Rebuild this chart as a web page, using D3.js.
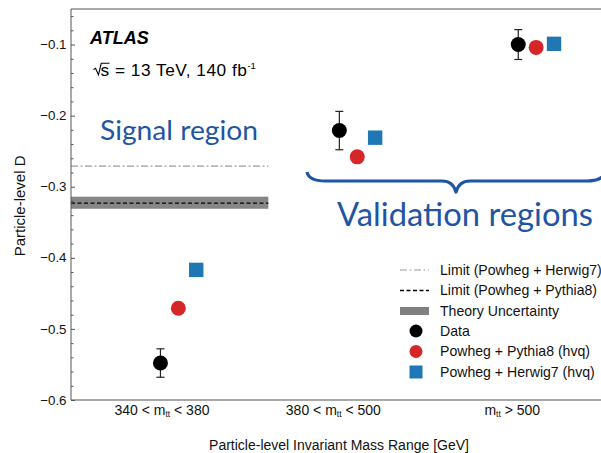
<!DOCTYPE html>
<html>
<head>
<meta charset="utf-8">
<script src="https://cdn.jsdelivr.net/npm/d3@7"></script>
<style>
  body { margin: 0; background: #fff; }
  svg { display: block; font-family: "Liberation Sans", Arial, Helvetica, sans-serif; }
</style>
</head>
<body>
<svg id="chart" width="601" height="453"></svg>
<script>
// ---------------- data ----------------
const catPrefix = ["340 < m", "380 < m", "m"];
const catSub = ["tt", "tt", "tt"];
const catSuffix = [" < 380", " < 500", " > 500"];
const catIndex = [1, 2, 3];

const dataValues = [-0.548, -0.221, -0.100];
const dataErrors = [0.020, 0.027, 0.021];
const pythiaValues = [-0.471, -0.258, -0.104];
const herwigValues = [-0.417, -0.231, -0.099];

const limitHerwig = -0.271;
const limitPythia = -0.323;
const theoryBand = [-0.331, -0.314];

const yMajorTicks = [-0.6, -0.5, -0.4, -0.3, -0.2, -0.1];
const yMinorTicks = [-0.58, -0.56, -0.54, -0.52, -0.48, -0.46, -0.44, -0.42,
  -0.38, -0.36, -0.34, -0.32, -0.28, -0.26, -0.24, -0.22,
  -0.18, -0.16, -0.14, -0.12, -0.08, -0.06];

const legendLabels = ["Limit (Powheg + Herwig7)", "Limit (Powheg + Pythia8)", "Theory Uncertainty",
  "Data", "Powheg + Pythia8 (hvq)", "Powheg + Herwig7 (hvq)"];

// ---------------- layout ----------------
const svg = d3.select("#chart");
const x = d3.scaleLinear().domain([0.5, 3.5]).range([71, 607.7]);
const y = d3.scaleLinear().domain([-0.6, -0.05]).range([400, 9]);

const red = "#d62728", blue = "#1f77b4", annBlue = "#1f55a3";
const axisColor = "#555";

// theory band and limit lines (signal region)
svg.append("rect")
  .attr("x", x(0.5)).attr("width", x(1.603) - x(0.5))
  .attr("y", y(theoryBand[1])).attr("height", y(theoryBand[0]) - y(theoryBand[1]))
  .attr("fill", "#808080").attr("opacity", 0.95);
svg.append("line")
  .attr("x1", x(0.5)).attr("x2", x(1.603))
  .attr("y1", y(limitPythia)).attr("y2", y(limitPythia))
  .attr("stroke", "#000").attr("stroke-width", 1.3).attr("stroke-dasharray", "4,2.5");
svg.append("line")
  .attr("x1", x(0.5)).attr("x2", x(1.603))
  .attr("y1", y(limitHerwig)).attr("y2", y(limitHerwig))
  .attr("stroke", "#9a9a9a").attr("stroke-width", 1.2).attr("stroke-dasharray", "7,2.5,2,2.5");

// axes frame
svg.append("line").attr("x1", x(0.5)).attr("x2", x(0.5)).attr("y1", y(-0.05)).attr("y2", y(-0.6))
  .attr("stroke", axisColor).attr("stroke-width", 1);
svg.append("line").attr("x1", x(0.5)).attr("x2", x(3.5)).attr("y1", y(-0.6)).attr("y2", y(-0.6))
  .attr("stroke", axisColor).attr("stroke-width", 1);
svg.append("line").attr("x1", x(0.5)).attr("x2", x(3.5)).attr("y1", y(-0.05)).attr("y2", y(-0.05))
  .attr("stroke", axisColor).attr("stroke-width", 1);

// y axis (ticks drawn inside)
const yAxis = d3.axisRight(y).tickValues(yMajorTicks).tickSize(4).tickFormat("");
const gy = svg.append("g").attr("transform", `translate(${x(0.5)},0)`).call(yAxis);
gy.select(".domain").remove();
gy.selectAll(".tick line").attr("stroke", axisColor);
const yAxisMinor = d3.axisRight(y).tickValues(yMinorTicks).tickSize(2.5).tickFormat("");
const gym = svg.append("g").attr("transform", `translate(${x(0.5)},0)`).call(yAxisMinor);
gym.select(".domain").remove();
gym.selectAll(".tick line").attr("stroke", axisColor);

svg.append("g").selectAll("text").data(yMajorTicks).join("text")
  .attr("x", 66.5).attr("y", d => y(d)).attr("dy", "0.35em")
  .attr("text-anchor", "end").attr("font-size", 13.3).attr("fill", "#111")
  .text(d => d3.format(".1f")(d));

// category labels
const catShift = [1.5, -6, -6];
const catG = svg.append("g");
catIndex.forEach((c, i) => {
  const t = catG.append("text").attr("x", x(c) + catShift[i]).attr("y", 415)
    .attr("text-anchor", "middle").attr("font-size", 14).attr("fill", "#111");
  t.append("tspan").text(catPrefix[i]);
  t.append("tspan").attr("font-size", 8.5).attr("dy", 2).text(catSub[i]);
  t.append("tspan").attr("dy", -2).text(catSuffix[i]);
});

// axis titles
svg.append("text").attr("x", 339).attr("y", 450).attr("text-anchor", "middle")
  .attr("font-size", 14).attr("fill", "#111").text("Particle-level Invariant Mass Range [GeV]");
svg.append("text").attr("transform", `translate(25,${y(-0.327)}) rotate(-90)`)
  .attr("text-anchor", "middle").attr("font-size", 15).attr("fill", "#111").text("Particle-level D");

// data points
const pts = svg.append("g");
pts.selectAll("line.err").data(catIndex).join("line")
  .attr("x1", c => x(c)).attr("x2", c => x(c))
  .attr("y1", (c, i) => y(dataValues[i] + dataErrors[i]))
  .attr("y2", (c, i) => y(dataValues[i] - dataErrors[i]))
  .attr("stroke", "#222").attr("stroke-width", 1.2);
[1, -1].forEach(s => {
  pts.selectAll(null).data(catIndex).join("line")
    .attr("x1", c => x(c) - 4).attr("x2", c => x(c) + 4)
    .attr("y1", (c, i) => y(dataValues[i] + s * dataErrors[i]))
    .attr("y2", (c, i) => y(dataValues[i] + s * dataErrors[i]))
    .attr("stroke", "#222").attr("stroke-width", 1.2);
});
pts.selectAll("circle.data").data(catIndex).join("circle")
  .attr("cx", c => x(c)).attr("cy", (c, i) => y(dataValues[i])).attr("r", 7.5).attr("fill", "#000");
pts.selectAll("circle.py").data(catIndex).join("circle")
  .attr("cx", c => x(c + 0.1)).attr("cy", (c, i) => y(pythiaValues[i])).attr("r", 7.5).attr("fill", red);
pts.selectAll("rect.hw").data(catIndex).join("rect")
  .attr("x", c => x(c + 0.2) - 7.2).attr("y", (c, i) => y(herwigValues[i]) - 7.2)
  .attr("width", 14.4).attr("height", 14.4).attr("fill", blue);

// ATLAS label
svg.append("text").attr("x", 90).attr("y", 44).attr("font-size", 18)
  .attr("font-weight", "bold").attr("font-style", "italic").attr("fill", "#000").text("ATLAS");
// sqrt(s) label: radical drawn as a path, text after it
svg.append("path").attr("d", "M93.5,69.5 L95.5,68.2 L98.5,74.8 L101.2,63.3 L109.5,63.3")
  .attr("fill", "none").attr("stroke", "#000").attr("stroke-width", 1.1).attr("stroke-linejoin", "miter");
const lumi = svg.append("text").attr("x", 100.5).attr("y", 75.5).attr("font-size", 17.3)
  .attr("letter-spacing", 0.5).attr("fill", "#000");
lumi.append("tspan").text("s = 13 TeV, 140 fb");
lumi.append("tspan").attr("font-size", 9.5).attr("letter-spacing", 0).attr("dy", -7).text("-1");

// region annotations
svg.append("text").attr("x", 100).attr("y", 139.5).attr("font-family", "Lato, 'Open Sans', sans-serif")
  .attr("font-size", 27).attr("fill", annBlue).attr("textLength", 158).attr("lengthAdjust", "spacingAndGlyphs")
  .text("Signal region");
svg.append("text").attr("x", 337).attr("y", 225.5).attr("font-family", "Lato, 'Open Sans', sans-serif")
  .attr("font-size", 32.5).attr("fill", annBlue).attr("textLength", 256).attr("lengthAdjust", "spacingAndGlyphs")
  .text("Validation regions");

// curly brace
const bx0 = 307, bx1 = 605, bm = (bx0 + bx1) / 2, by0 = 172, by1 = 181, by2 = 192;
svg.append("path")
  .attr("d", `M${bx0},${by0} Q${bx0 + 2},${by1} ${bx0 + 18},${by1} L${bm - 14},${by1} Q${bm - 3},${by1} ${bm},${by2} ` +
    `Q${bm + 3},${by1} ${bm + 14},${by1} L${bx1 - 18},${by1} Q${bx1 - 2},${by1} ${bx1},${by0}`)
  .attr("fill", "none").attr("stroke", annBlue).attr("stroke-width", 3.2).attr("stroke-linejoin", "round");

// legend
const legY = [270, 290.5, 311, 331, 351.5, 372];
const lg = svg.append("g");
lg.selectAll("text").data(legendLabels).join("text")
  .attr("x", 440).attr("y", (d, i) => legY[i]).attr("dy", "0.35em")
  .attr("font-size", 14.1).attr("fill", "#111").text(d => d);
lg.append("line").attr("x1", 400).attr("x2", 429).attr("y1", legY[0]).attr("y2", legY[0])
  .attr("stroke", "#9a9a9a").attr("stroke-width", 1.2).attr("stroke-dasharray", "7,2.5,2,2.5");
lg.append("line").attr("x1", 400).attr("x2", 429).attr("y1", legY[1]).attr("y2", legY[1])
  .attr("stroke", "#000").attr("stroke-width", 1.3).attr("stroke-dasharray", "4,2.5");
lg.append("rect").attr("x", 400).attr("y", legY[2] - 4).attr("width", 29).attr("height", 8).attr("fill", "#808080");
lg.append("circle").attr("cx", 416).attr("cy", legY[3]).attr("r", 6.5).attr("fill", "#000");
lg.append("circle").attr("cx", 416).attr("cy", legY[4]).attr("r", 6.5).attr("fill", red);
lg.append("rect").attr("x", 409.5).attr("y", legY[5] - 6.5).attr("width", 13).attr("height", 13).attr("fill", blue);
</script>
</body>
</html>
